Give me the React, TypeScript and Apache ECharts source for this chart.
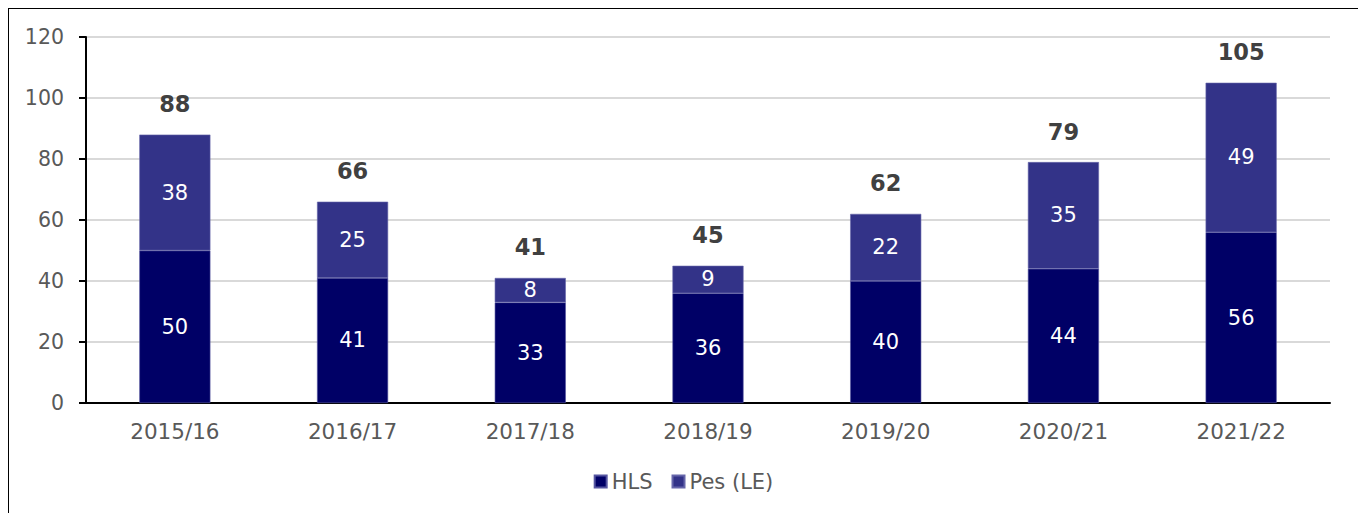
import React, { useEffect, useRef } from "react";
import * as echarts from "echarts";

const categories = ["2015/16", "2016/17", "2017/18", "2018/19", "2019/20", "2020/21", "2021/22"];
const hlsValues = [50, 41, 33, 36, 40, 44, 56];
const pesValues = [38, 25, 8, 9, 22, 35, 49];
const totals = [88, 66, 41, 45, 62, 79, 105];
const yTicks = [0, 20, 40, 60, 80, 100, 120];

const FONT = "'DejaVu Sans', Verdana, sans-serif";

export default function App() {
  const ref = useRef<HTMLDivElement>(null);
  useEffect(() => {
    if (!ref.current) return;
    const chart = echarts.init(ref.current, null, { renderer: "svg" });
    chart.setOption({
      animation: false,
      textStyle: { fontFamily: FONT },
      grid: { left: 77, right: 28, top: 28, bottom: 134, containLabel: false },
      legend: {
        data: ["HLS", "Pes (LE)"],
        bottom: 40,
        left: "center",
        icon: "rect",
        itemWidth: 12,
        itemHeight: 12,
        itemGap: 19,
        textStyle: { fontFamily: FONT, fontSize: 21, color: "#595959", padding: [0, 0, 0, 0] },
      },
      xAxis: {
        type: "category",
        data: categories,
        axisLine: { lineStyle: { color: "#000", width: 2 } },
        axisTick: { show: false },
        axisLabel: { color: "#595959", fontSize: 21.5, margin: 17, fontFamily: FONT },
      },
      yAxis: {
        type: "value",
        min: yTicks[0],
        max: yTicks[yTicks.length - 1],
        interval: 20,
        axisLine: { show: true, lineStyle: { color: "#000", width: 2 } },
        axisTick: { show: true, length: 7, lineStyle: { color: "#000", width: 2 } },
        axisLabel: { color: "#595959", fontSize: 20.5, margin: 22, fontFamily: FONT },
        splitLine: { lineStyle: { color: "#d9d9d9", width: 2 } },
      },
      series: [
        {
          name: "HLS",
          type: "bar",
          stack: "t",
          barWidth: "40%",
          data: hlsValues,
          itemStyle: { color: "#000066", borderColor: "#5555a0", borderWidth: 0.6 },
          label: { show: true, position: "inside", color: "#fff", fontSize: 21, fontFamily: FONT },
        },
        {
          name: "Pes (LE)",
          type: "bar",
          stack: "t",
          barWidth: "40%",
          data: pesValues,
          itemStyle: { color: "#333388", borderColor: "#6666aa", borderWidth: 0.6 },
          label: { show: true, position: "inside", color: "#fff", fontSize: 21, fontFamily: FONT },
        },
        {
          name: "Total",
          type: "bar",
          stack: "t",
          barWidth: "40%",
          data: totals.map(() => 0),
          itemStyle: { color: "transparent" },
          label: {
            show: true,
            position: "top",
            distance: 19,
            color: "#404040",
            fontWeight: "bold",
            fontSize: 22.5,
            fontFamily: FONT,
            formatter: (p: any) => String(totals[p.dataIndex]),
          },
        },
      ],
    });
    return () => chart.dispose();
  }, []);
  return (
    <div style={{ width: 1351, height: 530, border: "1px solid #000", boxSizing: "border-box" }}>
      <div ref={ref} style={{ width: 1349, height: 528 }} />
    </div>
  );
}
